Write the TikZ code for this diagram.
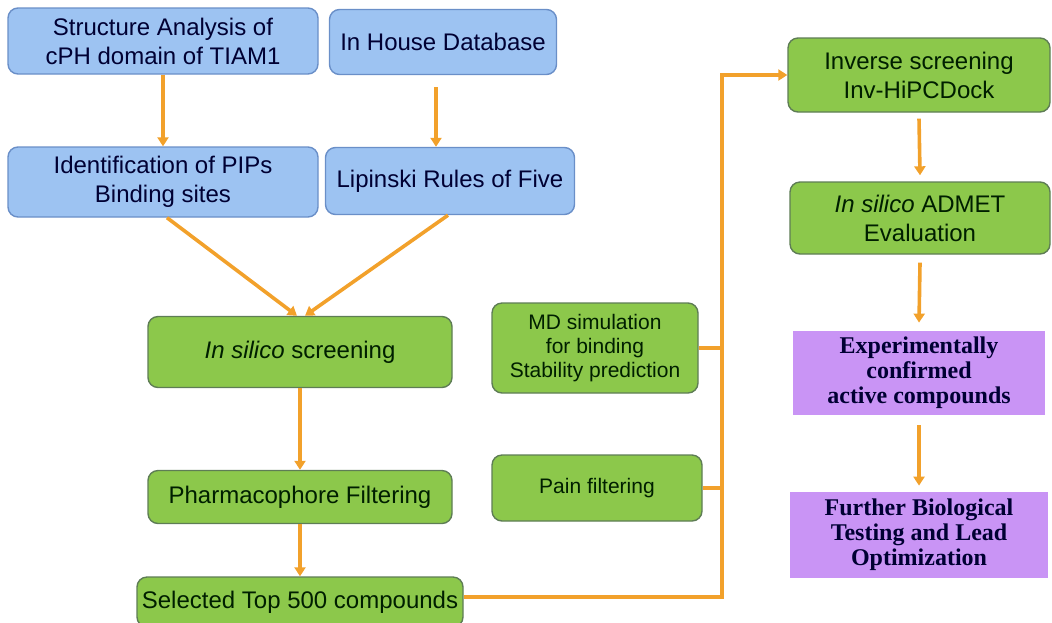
\documentclass[tikz,border=0pt]{standalone}
\usepackage{fontspec}
\setmainfont{Liberation Serif}
\setsansfont{Liberation Sans}
\usetikzlibrary{arrows.meta}

\definecolor{boxblue}{HTML}{9DC3F2}
\definecolor{lineblue}{HTML}{6A8FC8}
\definecolor{boxgreen}{HTML}{8CC84B}
\definecolor{linegreen}{HTML}{5E7D55}
\definecolor{boxpurple}{HTML}{C994F5}
\definecolor{flow}{HTML}{F2A12B}

\begin{document}
\begin{tikzpicture}[x=0.5pt, y=-0.5pt,
    every node/.style={rounded corners=5pt, align=center, font=\sffamily\fontsize{12}{14.5}\selectfont, inner sep=2pt},
    bluebox/.style={draw=lineblue, fill=boxblue, text=black!80!blue, line width=0.7pt},
    greenbox/.style={draw=linegreen, fill=boxgreen, text=black!70!green!40!black, line width=0.7pt},
    smalltext/.style={font=\sffamily\fontsize{10.5}{12}\selectfont},
    purplebox/.style={fill=boxpurple, rounded corners=0pt, text=black!80!blue,
        font=\rmfamily\bfseries\fontsize{12}{12.5}\selectfont},
    arr/.style={draw=flow, line width=1.8pt, -{Triangle[width=5.5pt,length=4.5pt]}},
    link/.style={draw=flow, line width=1.6pt}]
    \useasboundingbox (0,0) rectangle (1052,622);

    % Target and library preparation
    \node[bluebox, minimum width=155pt, minimum height=33pt] (s1) at (163,41) {Structure Analysis of\\cPH domain of TIAM1};
    \node[bluebox, minimum width=113.5pt, minimum height=32.5pt] (s2) at (443,42) {In House Database};
    \node[bluebox, minimum width=155pt, minimum height=35pt] (s3) at (163,182) {Identification of PIPs\\Binding sites};
    \node[bluebox, minimum width=124.5pt, minimum height=33.5pt] (s4) at (450,181) {Lipinski Rules of Five};

    % Screening and filtering
    \node[greenbox, minimum width=152pt, minimum height=35.5pt] (s5) at (300,352) {\textit{In silico} screening};
    \node[greenbox, minimum width=152pt, minimum height=26.5pt] (s6) at (300,497) {Pharmacophore Filtering};
    \node[greenbox, minimum width=163pt, minimum height=25pt] (s7) at (300,602) {Selected Top 500 compounds};

    % Side checks
    \node[greenbox, smalltext, minimum width=103pt, minimum height=45pt] (md) at (595,348) {MD simulation\\for binding\\Stability prediction};
    \node[greenbox, smalltext, minimum width=105pt, minimum height=33pt] (pain) at (597,488) {Pain filtering};

    % Inverse docking and validation
    \node[greenbox, minimum width=131pt, minimum height=37pt] (inv) at (919,75) {Inverse screening\\Inv-HiPCDock};
    \node[greenbox, minimum width=130pt, minimum height=36pt] (adm) at (920,218) {\textit{In silico} ADMET\\Evaluation};
    \node[purplebox, minimum width=126pt, minimum height=42pt] (exp) at (919,373) {Experimentally\\confirmed\\active compounds};
    \node[purplebox, minimum width=129pt, minimum height=43pt] (lead) at (919,535) {Further Biological\\Testing and Lead\\Optimization};

    \coordinate (bus) at (722,75);

    % Left column arrows
    \draw[arr] (s1) -- (s3);
    \draw[arr] ([xshift=-3.5pt, yshift=-6pt]s2.south) -- ([xshift=-7pt]s4.north);
    \draw[arr] ([xshift=2pt]s3.south) -- ([xshift=-1.5pt]s5.north);
    \draw[arr] ([xshift=-1pt]s4.south) -- ([xshift=2.5pt]s5.north);
    \draw[arr] (s5) -- (s6);
    \draw[arr] (s6) -- (s7);

    % Collector line to the inverse screening
    \draw[arr] ([yshift=2.5pt]s7.east) -| (bus) -- (inv.west);
    \draw[link] (md.east) -- (md.east -| bus);
    \draw[link] (pain.east) -- (pain.east -| bus);

    % Right column arrows
    \draw[arr] ([yshift=-3pt]inv.south) -- ([yshift=3pt]adm.north);
    \draw[arr] ([yshift=-4pt]adm.south) -- ([yshift=4pt]exp.north);
    \draw[arr] ([yshift=-5pt]exp.south) -- ([yshift=3pt]lead.north);
\end{tikzpicture}
\end{document}
